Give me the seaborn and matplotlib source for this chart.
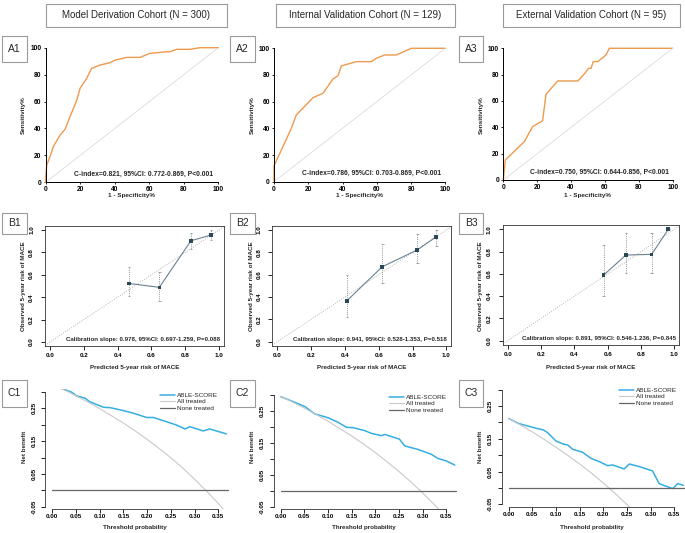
import numpy as np
import pandas as pd
import matplotlib
matplotlib.use("Agg")
import matplotlib.pyplot as plt
from matplotlib.patches import Rectangle
import seaborn as sns

W, H = 685, 533

# --- data ---
cohorts = ["Model Derivation Cohort (N = 300)",
           "Internal Validation Cohort (N = 129)",
           "External Validation Cohort (N = 95)"]

# ROC curves (1 - specificity %, sensitivity %)
roc1_fpr = [0, 0, 0.6, 2.5, 4.4, 8.3, 11.2, 14.1, 18.0, 19.9, 23.7, 26.6, 31.5, 37.3, 40.2,
            47.0, 54.6, 60.4, 70.0, 72.0, 75.9, 83.6, 89.4, 100]
roc1_tpr = [0, 4, 12.9, 19.0, 26.5, 35.0, 39.4, 48.8, 61.0, 69.8, 77.2, 84.7, 87.1, 88.9, 90.8,
            92.8, 92.8, 95.8, 97.0, 97.0, 98.8, 98.8, 100, 100]
roc2_fpr = [0, 0, 4.3, 10.1, 13.0, 22.8, 28.6, 34.4, 37.4, 39.3, 48.1, 56.8, 59.7, 64.6, 71.4, 80.2, 100]
roc2_tpr = [0, 11.8, 23.8, 40.0, 50.0, 63.0, 66.3, 77.0, 79.5, 86.8, 90.0, 90.0, 92.5, 95.0, 95.0, 100, 100]
roc3_fpr = [0, 1.2, 12.4, 17.3, 23.2, 25.2, 32.1, 43.9, 47.8, 50.4, 51.8, 53.1, 55.7, 60.6, 62.6, 100]
roc3_tpr = [0, 15.2, 29.1, 40.5, 45.0, 65.0, 75.2, 75.2, 80.5, 84.8, 84.8, 89.9, 89.9, 94.9, 100, 100]
roc_notes = ["C-index=0.821, 95%CI: 0.772-0.869, P<0.001",
             "C-index=0.786, 95%CI: 0.703-0.869, P<0.001",
             "C-index=0.750, 95%CI: 0.644-0.856, P<0.001"]

# calibration (predicted, observed, CI low, CI high)
cal1_pred = [0.467, 0.647, 0.834, 0.953]
cal1_obs = [0.523, 0.488, 0.904, 0.955]
cal1_lo = [0.411, 0.366, 0.827, 0.910]
cal1_hi = [0.672, 0.628, 0.970, 1.000]
cal2_pred = [0.412, 0.621, 0.828, 0.941]
cal2_obs = [0.367, 0.671, 0.821, 0.940]
cal2_lo = [0.224, 0.523, 0.702, 0.857]
cal2_hi = [0.597, 0.872, 0.962, 1.000]
cal3_pred = [0.576, 0.710, 0.864, 0.964]
cal3_obs = [0.590, 0.769, 0.775, 1.000]
cal3_lo = [0.401, 0.605, 0.605, 1.000]
cal3_hi = [0.859, 0.970, 0.970, 1.000]
cal_notes = ["Calibration slope: 0.978, 95%CI: 0.697-1.259, P=0.088",
             "Calibration slope: 0.941, 95%CI: 0.528-1.353, P=0.518",
             "Calibration slope: 0.891, 95%CI: 0.546-1.236, P=0.845"]

# decision curves (threshold, net benefit)
dca1_thr = [0.013, 0.041, 0.051, 0.069, 0.079, 0.108, 0.122, 0.150, 0.171, 0.199, 0.213, 0.241,
            0.262, 0.280, 0.290, 0.318, 0.332, 0.367]
dca1_nb = [0.314, 0.299, 0.288, 0.281, 0.270, 0.253, 0.252, 0.243, 0.235, 0.222, 0.222, 0.209,
           0.199, 0.187, 0.194, 0.181, 0.187, 0.172]
all1_thr = [0.013, 0.05, 0.075, 0.10, 0.125, 0.15, 0.175, 0.20, 0.225, 0.25, 0.275, 0.30, 0.325, 0.35, 0.367]
all1_nb = [0.315, 0.288, 0.269, 0.249, 0.227, 0.205, 0.181, 0.155, 0.128, 0.099, 0.068, 0.034, -0.002, -0.040, -0.068]
dca2_thr = [0, 0.030, 0.051, 0.072, 0.100, 0.121, 0.139, 0.153, 0.177, 0.192, 0.213, 0.220, 0.251,
            0.262, 0.290, 0.318, 0.332, 0.350, 0.368]
dca2_nb = [0.294, 0.276, 0.263, 0.240, 0.228, 0.214, 0.198, 0.197, 0.188, 0.179, 0.172, 0.176, 0.161,
           0.140, 0.129, 0.114, 0.101, 0.093, 0.080]
all2_thr = [0, 0.025, 0.05, 0.075, 0.10, 0.125, 0.15, 0.175, 0.20, 0.225, 0.25, 0.275, 0.30, 0.325, 0.34]
all2_nb = [0.295, 0.277, 0.258, 0.238, 0.217, 0.194, 0.171, 0.146, 0.119, 0.090, 0.060, 0.028, -0.007, -0.044, -0.068]
dca3_thr = [0, 0.020, 0.040, 0.058, 0.073, 0.082, 0.100, 0.115, 0.125, 0.135, 0.156, 0.174, 0.192,
            0.209, 0.220, 0.244, 0.255, 0.276, 0.304, 0.318, 0.333, 0.347, 0.357, 0.369]
dca3_nb = [0.212, 0.197, 0.189, 0.182, 0.177, 0.169, 0.143, 0.134, 0.131, 0.118, 0.109, 0.090, 0.080,
           0.068, 0.070, 0.058, 0.073, 0.065, 0.052, 0.013, 0.005, -0.002, 0.013, 0.008]
all3_thr = [0, 0.025, 0.05, 0.075, 0.10, 0.125, 0.15, 0.175, 0.20, 0.225, 0.25, 0.26]
all3_nb = [0.212, 0.192, 0.171, 0.148, 0.124, 0.099, 0.073, 0.045, 0.015, -0.017, -0.051, -0.065]
none_thr = [0, 0.37]
none_nb = [0, 0]

ORANGE = "#EE9A4F"
BLUE = "#35AEE2"

sns.set_style("white")
plt.rcParams["font.family"] = ["Liberation Sans", "DejaVu Sans"]

fig = plt.figure(figsize=(W / 100, H / 100), dpi=100)


def rect(xp, xv, yp, yv, xlim, ylim):
    # axes rectangle from two known pixel anchors on each axis
    sx = (xp[1] - xp[0]) / (xv[1] - xv[0])
    sy = (yp[1] - yp[0]) / (yv[1] - yv[0])
    left = xp[0] + (xlim[0] - xv[0]) * sx
    right = xp[0] + (xlim[1] - xv[0]) * sx
    top = yp[0] + (ylim[1] - yv[0]) * sy
    bottom = yp[0] + (ylim[0] - yv[0]) * sy
    return [left / W, 1 - bottom / H, (right - left) / W, (bottom - top) / H]


def box(x0, y0, x1, y1, text, size):
    fig.add_artist(Rectangle((x0 / W, 1 - y1 / H), (x1 - x0) / W, (y1 - y0) / H,
                             transform=fig.transFigure, fill=False, edgecolor="#9a9a9a", lw=0.8))
    fig.text((x0 + x1) / 2 / W, 1 - (y0 + y1) / 2 / H, text, ha="center", va="center", fontsize=size)


def put_label(ax, which, text, px, py, size):
    pos = ax.get_position()
    xf = (px / W - pos.x0) / pos.width
    yf = ((1 - py / H) - pos.y0) / pos.height
    if which == "x":
        ax.set_xlabel(text, fontsize=size, fontweight="bold", va="center")
        ax.xaxis.set_label_coords(xf, yf)
    else:
        ax.set_ylabel(text, fontsize=size, fontweight="bold", va="center")
        ax.yaxis.set_label_coords(xf, yf)


def bold_ticks(ax):
    for lab in ax.get_xticklabels() + ax.get_yticklabels():
        lab.set_fontweight("bold")


# headers
box(46, 4, 227, 27, cohorts[0], 7)
box(276, 4, 455, 27, cohorts[1], 7)
box(503, 4, 680, 27, cohorts[2], 7)

# ---------- row A: ROC ----------
rocs = [(roc1_fpr, roc1_tpr), (roc2_fpr, roc2_tpr), (roc3_fpr, roc3_tpr)]
a_x = [(45.7, 218.3), (274.0, 445.3), (503.3, 672.7)]
a_y = [(182.3, 47.7), (181.7, 48.3), (180.0, 48.3)]
a_box = [(1.7, 26.7), (229.7, 254.7), (458.7, 483.3)]
a_ylab = [23.3, 252, 481]
for i in range(3):
    ax = fig.add_axes(rect(a_x[i], (0, 100), a_y[i], (0, 100), (0, 100), (0, 100)))
    fpr, tpr = rocs[i]
    sns.lineplot(x=fpr, y=tpr, sort=False, estimator=None, color=ORANGE, lw=1.0, ax=ax)
    for ln in ax.lines:
        ln.set_clip_on(False)
    ax.axline((0, 0), (100, 100), color="#dcdcdc", lw=0.6)
    ax.set_xlim(0, 100)
    ax.set_ylim(0, 100)
    ax.set_xticks(range(0, 101, 20))
    ax.set_yticks(range(0, 101, 20))
    for s in ["top", "right"]:
        ax.spines[s].set_visible(False)
    for s in ["left", "bottom"]:
        ax.spines[s].set_color("black")
        ax.spines[s].set_linewidth(0.7)
    ax.tick_params(direction="out", length=1.5, width=0.6, labelsize=4.8, pad=1.5,
                   bottom=True, left=True, colors="black")
    bold_ticks(ax)
    ax.text(56.7, 6, roc_notes[i], ha="center", va="center", fontsize=4.9, fontweight="bold")
    cx = (a_x[i][0] + a_x[i][1]) / 2
    put_label(ax, "x", "1 - Specificity%", cx, 196, 4.6)
    put_label(ax, "y", "Sensitivity%", a_ylab[i], 115, 4.6)
    box(a_box[i][0], 36, a_box[i][1], 62.3, "A%d" % (i + 1), 7.5)

# ---------- row B: calibration ----------
cals = [(cal1_pred, cal1_obs, cal1_lo, cal1_hi), (cal2_pred, cal2_obs, cal2_lo, cal2_hi),
        (cal3_pred, cal3_obs, cal3_lo, cal3_hi)]
b_x = [(50.0, 219.0), (277.3, 446.3), (507.7, 674.3)]
b_y = [(342.0, 230.0), (341.7, 230.0), (340.7, 229.3)]
b_ylab = [24, 252, 481]
for i in range(3):
    ax = fig.add_axes(rect(b_x[i], (0, 1), b_y[i], (0, 1), (-0.03, 1.03), (-0.04, 1.04)))
    pred, obs, lo, hi = [np.array(v) for v in cals[i]]
    ax.axline((0, 0), (1, 1), color="#b4b4b4", lw=0.7, ls=(0, (1, 1.5)))
    ax.vlines(pred, lo, hi, colors="#8c9a9c", linestyles=(0, (1, 1.2)), lw=0.7)
    ax.hlines(np.r_[lo, hi], np.r_[pred, pred] - 0.008, np.r_[pred, pred] + 0.008, colors="#8c9a9c", lw=0.6)
    sns.lineplot(x=pred, y=obs, sort=False, estimator=None, color="#6a8290", lw=0.8, ax=ax)
    sns.scatterplot(x=pred, y=obs, marker="s", s=7, color="#2a4856", edgecolor="none", ax=ax, zorder=3)
    ax.set_xlim(-0.03, 1.03)
    ax.set_ylim(-0.04, 1.04)
    ticks = np.arange(0, 1.01, 0.2)
    ax.set_xticks(ticks)
    ax.set_yticks(ticks)
    ax.set_xticklabels(["%.1f" % t for t in ticks])
    ax.set_yticklabels(["%.1f" % t for t in ticks])
    for s in ax.spines.values():
        s.set_color("#333333")
        s.set_linewidth(0.6)
    ax.tick_params(axis="x", direction="out", length=2.8, width=0.6, labelsize=4.5, pad=1.8,
                   bottom=True, colors="black")
    ax.tick_params(axis="y", direction="out", length=2.8, width=0.6, labelsize=4.5, pad=5.0,
                   left=True, labelrotation=90, colors="black")
    plt.setp(ax.get_yticklabels(), va="center")
    bold_ticks(ax)
    ax.text(0.55, 0.022, cal_notes[i], ha="center", va="center", fontsize=4.4, fontweight="bold")
    cx = b_x[i][0] + 0.5 * (b_x[i][1] - b_x[i][0])
    put_label(ax, "x", "Predicted 5-year risk of MACE", cx, 367.5, 4.5)
    put_label(ax, "y", "Observed 5-year risk of MACE", b_ylab[i], 286, 4.5)
    box(a_box[i][0], 213, a_box[i][1], 234, "B%d" % (i + 1), 7.5)

# ---------- row C: decision curves ----------
dcas = [(dca1_thr, dca1_nb, all1_thr, all1_nb), (dca2_thr, dca2_nb, all2_thr, all2_nb),
        (dca3_thr, dca3_nb, all3_thr, all3_nb)]
c_x = [(52.3, 218.3), (280.7, 446.3), (508.7, 674.3)]
c_y = [(506.7, 408.3), (506.7, 410.7), (504.3, 406.0)]
c_ylab = [24.3, 252.3, 480.3]
c_leg = [(160, 392.5), (389, 394.5), (619, 387.5)]
for i in range(3):
    ax = fig.add_axes(rect(c_x[i], (0, 0.35), c_y[i], (-0.05, 0.25), (-0.0145, 0.375), (-0.058, 0.31)))
    thr, nb, athr, anb = dcas[i]
    sns.lineplot(x=thr, y=nb, sort=False, estimator=None, color=BLUE, lw=1.1, ax=ax, label="ABLE-SCORE")
    sns.lineplot(x=athr, y=anb, sort=False, estimator=None, color="#c9c9c9", lw=0.8, ax=ax, label="All treated")
    sns.lineplot(x=none_thr, y=none_nb, sort=False, estimator=None, color="#666666", lw=0.9, ax=ax,
                 label="None treated")
    ax.set_xlim(-0.0145, 0.375)
    ax.set_ylim(-0.058, 0.31)
    xt = np.arange(0, 0.351, 0.05)
    yt = np.arange(-0.05, 0.301, 0.05)
    ax.set_xticks(xt)
    ax.set_xticklabels(["%.2f" % t for t in xt])
    ax.set_yticks(yt)
    ax.set_yticklabels(["%.2f" % t if k % 2 == 0 else "" for k, t in enumerate(yt)])
    for s in ["top", "right"]:
        ax.spines[s].set_visible(False)
    ax.spines["left"].set_bounds(-0.05, 0.30)
    ax.spines["bottom"].set_bounds(0, 0.35)
    for s in ["left", "bottom"]:
        ax.spines[s].set_color("#333333")
        ax.spines[s].set_linewidth(0.6)
    ax.tick_params(axis="x", direction="out", length=2.8, width=0.6, labelsize=4.5, pad=0.9,
                   bottom=True, colors="black")
    ax.tick_params(axis="y", direction="out", length=2.8, width=0.6, labelsize=4.5, pad=3.6,
                   left=True, labelrotation=90, colors="black")
    plt.setp(ax.get_yticklabels(), va="center")
    bold_ticks(ax)
    leg = ax.legend(loc="upper left", bbox_to_anchor=(c_leg[i][0] / W, 1 - c_leg[i][1] / H),
                    bbox_transform=fig.transFigure, frameon=False, fontsize=4.6, borderpad=0,
                    borderaxespad=0, handlelength=2.3, handletextpad=0.4, labelspacing=0.15)
    cx = c_x[i][0] + 0.5 * (c_x[i][1] - c_x[i][0])
    put_label(ax, "x", "Threshold probability", cx, 528, 4.5)
    put_label(ax, "y", "Net benefit", c_ylab[i], 447, 4.5)
    box(a_box[i][0], 380, a_box[i][1], 407, "C%d" % (i + 1), 7.5)

fig.savefig("out.png", dpi=100)
